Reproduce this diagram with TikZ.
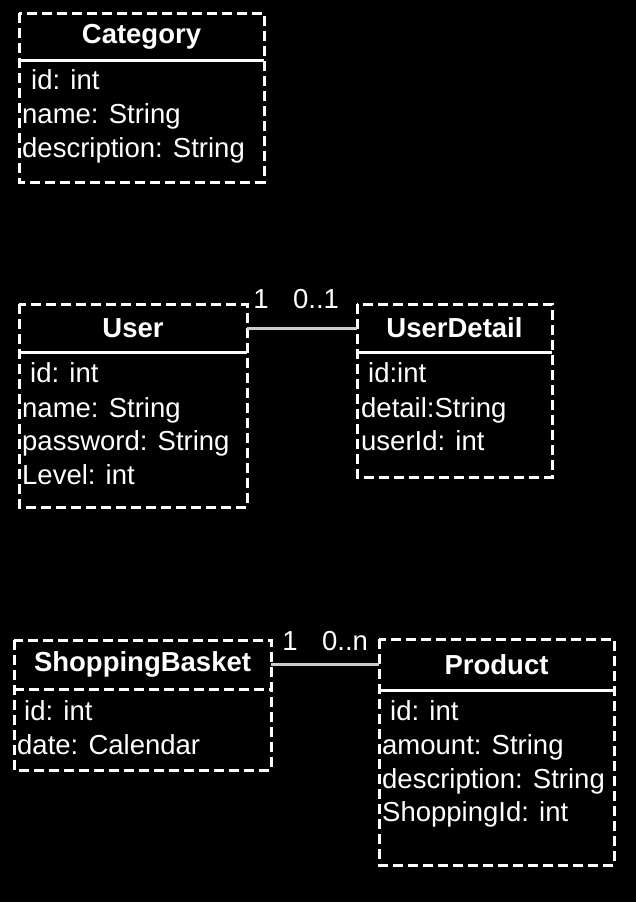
\documentclass[tikz,border=0pt]{standalone}
\usepackage{fontspec}
\setmainfont{Liberation Sans}

\begin{document}
\begin{tikzpicture}[x=1pt,y=-1pt,
    classbox/.style={draw=white,line width=3pt,dash pattern=on 10pt off 5pt},
    divider/.style={draw=white,line width=3pt},
    classhead/.style={inner sep=0pt,text=white,font=\bfseries\fontsize{27.5}{33}\selectfont},
    field/.style={anchor=west,inner sep=0pt,text=white,text height=0.72em,text depth=0.22em,font=\fontsize{27.5}{33}\selectfont},
    link/.style={draw=white!80!black,line width=3pt},
    mult/.style={inner sep=0pt,text=white,text height=0.72em,text depth=0.22em,font=\fontsize{27.5}{33}\selectfont}]

    % Background
    \fill[black] (0,0) rectangle (636,902);
    \useasboundingbox (0,0) rectangle (636,902);

    % Category
    \draw[classbox] (19,13) rectangle (264,182);
    \draw[divider] (19,60) -- (264,60);
    \node[classhead,minimum width=245pt,minimum height=47pt] (category) at (141.5,36.5) {Category};
    \node[field] (catid) at (31,87) {id: int};
    \node[field] (catname) at (22,121) {name: String};
    \node[field] (catdesc) at (22,155) {description: String};

    % User
    \draw[classbox] (19,304) rectangle (247,507);
    \draw[divider] (19,352) -- (247,352);
    \node[classhead,minimum width=228pt,minimum height=48pt] (user) at (133,328) {User};
    \node[field] (userid) at (30,380) {id: int};
    \node[field] (username) at (22,415) {name: String};
    \node[field] (userpass) at (22,448) {password: String};
    \node[field] (userlevel) at (22,482) {Level: int};

    % UserDetail
    \draw[classbox] (357,304) rectangle (552,477);
    \draw[divider] (357,352) -- (552,352);
    \node[classhead,minimum width=195pt,minimum height=48pt] (userdetail) at (454.5,328) {UserDetail};
    \node[field] (detailid) at (368,380) {id:int};
    \node[field] (detailtext) at (361,415) {detail:String};
    \node[field] (detailuser) at (361,448) {userId: int};

    % ShoppingBasket
    \draw[classbox] (14,640) rectangle (271,770);
    \draw[classbox] (14,689) -- (271,689);
    \node[classhead,minimum width=257pt,minimum height=49pt] (basket) at (142.5,664.5) {ShoppingBasket};
    \node[field] (basketid) at (24,718) {id: int};
    \node[field] (basketdate) at (17,752) {date: Calendar};

    % Product
    \draw[classbox] (379,639) rectangle (614,865);
    \draw[divider] (379,690) -- (614,690);
    \node[classhead,minimum width=235pt,minimum height=51pt] (product) at (496.5,664.5) {Product};
    \node[field] (prodid) at (390,718) {id: int};
    \node[field] (prodamount) at (382,752) {amount: String};
    \node[field] (proddesc) at (382,786) {description: String};
    \node[field] (prodshop) at (382,819) {ShoppingId: int};

    % Associations
    \draw[link] (user.east) -- (userdetail.west);
    \node[mult] (userone) at (261,306) {1};
    \node[mult] (detailopt) at (316,306) {0..1};
    \draw[link] (basket.east) -- (product.west);
    \node[mult] (basketone) at (290,648) {1};
    \node[mult] (prodmany) at (345,648) {0..n};
\end{tikzpicture}
\end{document}
